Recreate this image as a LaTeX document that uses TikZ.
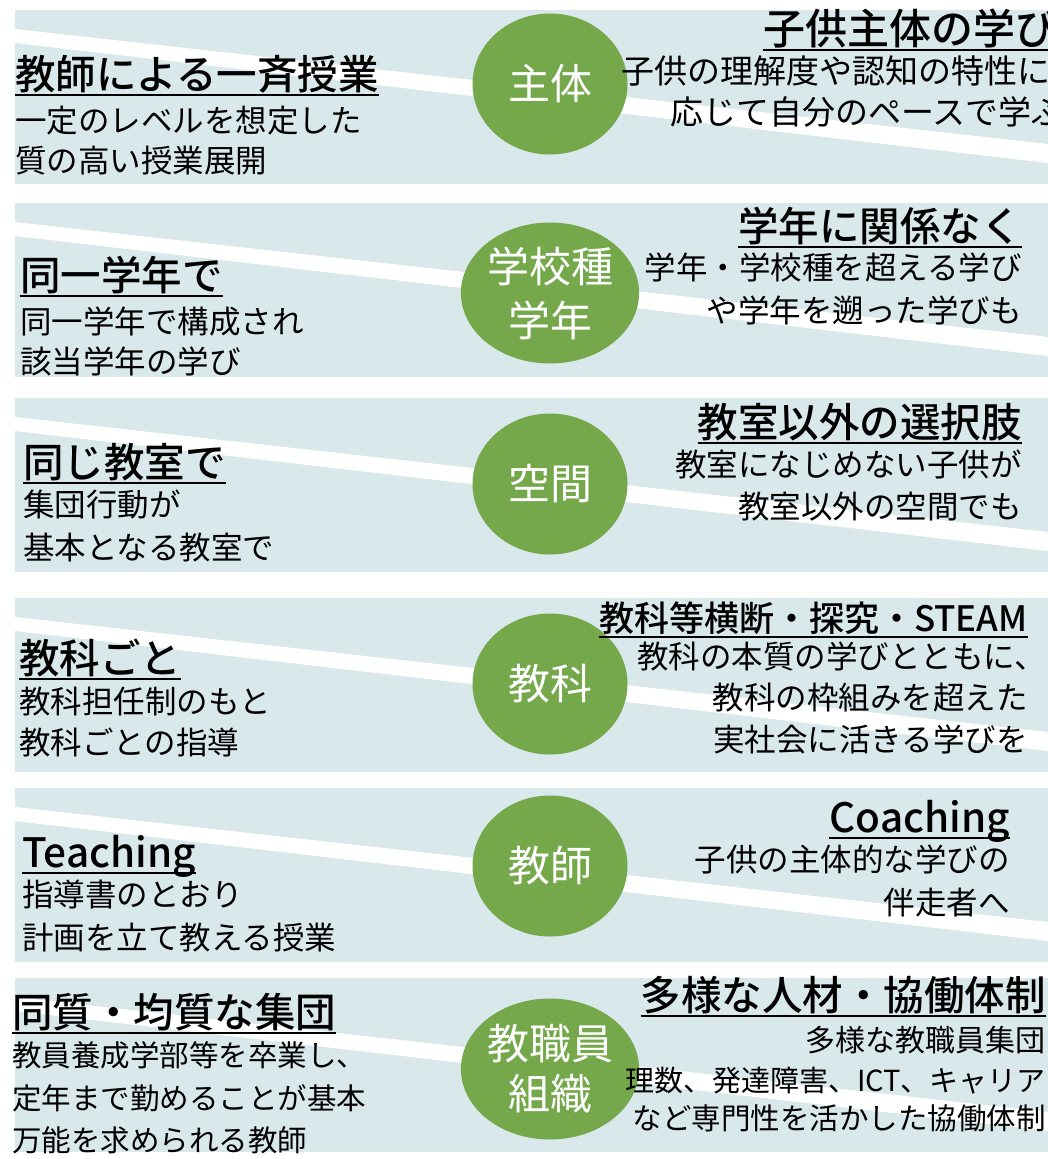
\documentclass[tikz,border=0pt]{standalone}
\usepackage{fontspec}
\usetikzlibrary{shapes.geometric}
\newfontfamily\jpfont{Noto Sans CJK JP}[BoldFont={Noto Sans CJK JP Medium}]
\definecolor{bandblue}{RGB}{217,232,235}
\definecolor{hubgreen}{RGB}{116,168,75}
\tikzset{
  band/.style={fill=bandblue},
  gap/.style={fill=white},
  hub/.style={ellipse, fill=hubgreen, minimum width=155pt, minimum height=141pt,
    inner sep=0pt, text=white, align=center, font=\jpfont\fontsize{42}{54}\selectfont},
  ttl/.style={inner sep=0pt, font=\jpfont\bfseries\fontsize{40.5}{46}\selectfont},
  txt/.style={inner sep=0pt, font=\jpfont\fontsize{31.5}{36}\selectfont},
  small/.style={font=\jpfont\fontsize{29.5}{36}\selectfont},
  ul/.style={line width=2.2pt}
}
\begin{document}
\begin{tikzpicture}[x=1pt,y=-1pt]
\useasboundingbox (0,0) rectangle (1048,1159);
% bands with the white slanted stripe
\foreach \t in {10,203,398,598,788,978}{
  \fill[band] (15,\t) rectangle (1048,\t+174);
  \fill[gap] (15,\t+19) -- (1048,\t+134) -- (1048,\t+153) -- (15,\t+33) -- cycle;
}
% hubs
\node[hub] (h1) at (550,84) {主体};
\node[hub] (h2) at (550,293) {学校種\\学年};
\node[hub] (h3) at (550,484) {空間};
\node[hub] (h4) at (550,684) {教科};
\node[hub] (h5) at (550,866) {教師};
\node[hub] (h6) at (550,1069) {教職員\\[-4pt]組織};
% left side
\node[ttl,anchor=base west] (l1) at (15,89) {教師による一斉授業};
\node[txt,anchor=base west] (l1a) at (15,132) {一定のレベルを想定した};
\node[txt,anchor=base west] (l1b) at (15,172) {質の高い授業展開};
\node[ttl,anchor=base west] (l2) at (20,290) {同一学年で};
\node[txt,anchor=base west] (l2a) at (20,333) {同一学年で構成され};
\node[txt,anchor=base west] (l2b) at (20,373) {該当学年の学び};
\node[ttl,anchor=base west] (l3) at (23,477) {同じ教室で};
\node[txt,anchor=base west] (l3a) at (23,516) {集団行動が};
\node[txt,anchor=base west] (l3b) at (23,559) {基本となる教室で};
\node[ttl,anchor=base west] (l4) at (19,673) {教科ごと};
\node[txt,anchor=base west] (l4a) at (19,713) {教科担任制のもと};
\node[txt,anchor=base west] (l4b) at (19,754) {教科ごとの指導};
\node[ttl,anchor=base west] (l5) at (22,867) {Teaching};
\node[txt,anchor=base west] (l5a) at (22,906) {指導書のとおり};
\node[txt,anchor=base west] (l5b) at (22,949) {計画を立て教える授業};
\node[ttl,anchor=base west] (l6) at (12,1027) {同質・均質な集団};
\node[txt,small,anchor=base west] (l6a) at (12,1066) {教員養成学部等を卒業し、};
\node[txt,small,anchor=base west] (l6b) at (12,1109) {定年まで勤めることが基本};
\node[txt,small,anchor=base west] (l6c) at (12,1151) {万能を求められる教師};
% right side
\node[ttl,anchor=base west,font=\jpfont\bfseries\fontsize{42}{48}\selectfont] (r1) at (763,44) {子供主体の学び};
\node[txt,anchor=base west,font=\jpfont\fontsize{33}{38}\selectfont] (r1a) at (621,83) {子供の理解度や認知の特性に};
\node[txt,anchor=base west,font=\jpfont\fontsize{33}{38}\selectfont] (r1b) at (670,124) {応じて自分のペースで学ぶ};
\node[ttl,anchor=base east] (r2) at (1022,241) {学年に関係なく};
\node[txt,anchor=base east] (r2a) at (1022,279) {学年・学校種を超える学び};
\node[txt,anchor=base east] (r2b) at (1022,322) {や学年を遡った学びも};
\node[ttl,anchor=base east] (r3) at (1022,437) {教室以外の選択肢};
\node[txt,anchor=base east] (r3a) at (1022,476) {教室になじめない子供が};
\node[txt,anchor=base east] (r3b) at (1022,518) {教室以外の空間でも};
\node[ttl,anchor=base east,font=\jpfont\bfseries\fontsize{35}{42}\selectfont] (r4) at (1028,631) {教科等横断・探究・STEAM};
\node[txt,anchor=base east] (r4a) at (1046,668) {教科の本質の学びとともに、};
\node[txt,anchor=base east] (r4b) at (1028,709) {教科の枠組みを超えた};
\node[txt,anchor=base east] (r4c) at (1028,751) {実社会に活きる学びを};
\node[ttl,anchor=base east] (r5) at (1010,832) {Coaching};
\node[txt,anchor=base east] (r5a) at (1010,871) {子供の主体的な学びの};
\node[txt,anchor=base east] (r5b) at (1010,914) {伴走者へ};
\node[ttl,anchor=base east] (r6) at (1046,1010) {多様な人材・協働体制};
\node[txt,anchor=base east,font=\jpfont\fontsize{30}{36}\selectfont] (r6a) at (1046,1051) {多様な教職員集団};
\node[txt,anchor=base east,font=\jpfont\fontsize{29}{36}\selectfont] (r6b) at (1046,1091) {理数、発達障害、ICT、キャリア};
\node[txt,small,anchor=base east] (r6c) at (1046,1129) {など専門性を活かした協働体制};
% underlines of the titles
\foreach \n in {l1,l2,l3,l4,l5,l6,r1,r2,r3,r4,r5,r6}
  \draw[ul] ([yshift=-6pt]\n.base west) -- ([yshift=-6pt]\n.base east);
\end{tikzpicture}
\end{document}
